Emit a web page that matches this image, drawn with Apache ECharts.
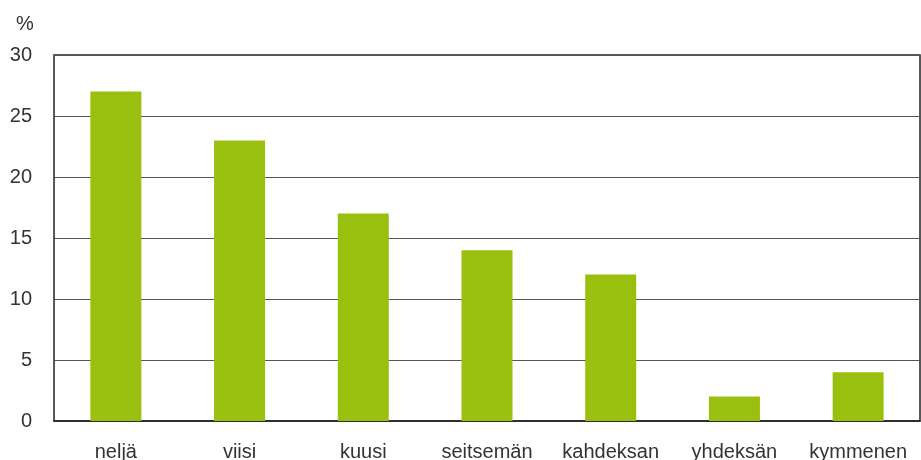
<!DOCTYPE html>
<html>
<head>
<meta charset="utf-8">
<title>Bars</title>
<script src="https://cdn.jsdelivr.net/npm/echarts@6/dist/echarts.min.js"></script>
<style>
  html, body { margin: 0; padding: 0; background: #fff; }
</style>
</head>
<body>
<div id="main" style="width: 921px; height: 460px;"></div>
<script type="text/javascript">
  var categories = ['neljä', 'viisi', 'kuusi', 'seitsemän', 'kahdeksan', 'yhdeksän', 'kymmenen'];
  var values = [27, 23, 17, 14, 12, 2, 4];
  var yTicks = [0, 30, 5];

  var chart = echarts.init(document.getElementById('main'));
  var font = 'Liberation Sans, Arial, sans-serif';

  var option = {
    animation: false,
    title: {
      text: '%',
      left: 11,
      top: 9,
      textStyle: { fontFamily: font, fontSize: 20, fontWeight: 'normal', color: '#333' }
    },
    grid: {
      left: 54,
      right: 1,
      top: 55,
      bottom: 39,
      outerBoundsMode: 'none',
      containLabel: false,
      show: true,
      borderColor: '#222',
      borderWidth: 1.5
    },
    xAxis: {
      type: 'category',
      data: categories,
      axisTick: { show: false },
      axisLine: { lineStyle: { color: '#222', width: 1.5 } },
      axisLabel: {
        margin: 21,
        interval: 0,
        fontFamily: font,
        fontSize: 20,
        color: '#333'
      }
    },
    yAxis: {
      type: 'value',
      min: yTicks[0],
      max: yTicks[1],
      interval: yTicks[2],
      axisLine: { show: false },
      axisTick: { show: false },
      splitLine: { lineStyle: { color: '#555', width: 1 } },
      axisLabel: {
        margin: 22,
        fontFamily: font,
        fontSize: 20,
        color: '#333'
      }
    },
    series: [{
      type: 'bar',
      data: values,
      barWidth: 51,
      itemStyle: { color: '#99c00f' },
      z: 3
    }]
  };

  chart.setOption(option);
</script>
</body>
</html>
